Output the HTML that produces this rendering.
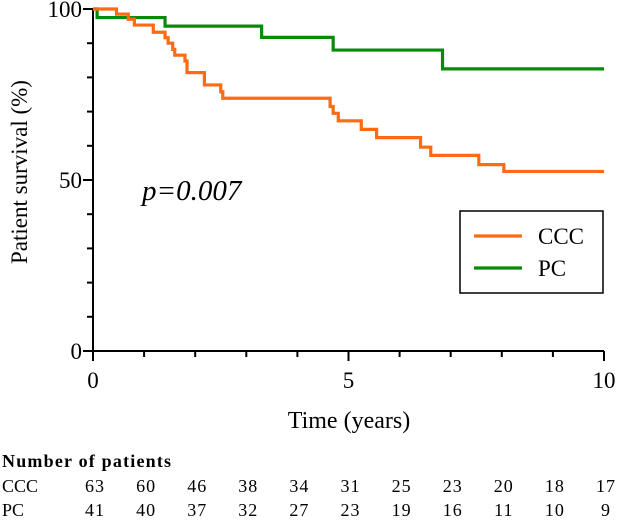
<!DOCTYPE html>
<html><head><meta charset="utf-8"><style>
body{margin:0;background:#fff;}
svg{display:block;font-family:"Liberation Serif",serif;}
</style></head><body>
<svg id="chart" width="617" height="522" viewBox="0 0 617 522" xmlns="http://www.w3.org/2000/svg">
<g id="axes"></g><g id="curves"></g><g id="table"></g>
</svg>
<script>
const cccTimes=[0,0.46,0.69,0.81,1.18,1.41,1.47,1.56,1.60,1.80,1.84,2.18,2.50,2.54,4.64,4.70,4.80,5.25,5.55,6.41,6.61,7.55,8.04];
const cccSurv=[100,98.5,97,95.3,93.2,91.6,90,88.2,86.5,84.8,81.4,77.8,75.8,73.9,71.5,69.5,67.3,64.8,62.4,59.6,57.2,54.5,52.5];
const pcTimes=[0,0.08,1.41,3.30,4.70,6.84];
const pcSurv=[100,97.5,95,91.7,88,82.5];
const xTicks=[0,5,10];
const yTicks=[0,50,100];
const cccAtRisk=[63,60,46,38,34,31,25,23,20,18,17];
const pcAtRisk=[41,40,37,32,27,23,19,16,11,10,9];
const NS="http://www.w3.org/2000/svg";
const X=t=>93+t*51.1, Y=p=>351-p*3.42;
function mk(tag,attrs,parent,text){const e=document.createElementNS(NS,tag);for(const k in attrs)e.setAttribute(k,attrs[k]);if(text!==undefined)e.textContent=text;parent.appendChild(e);return e;}
const axes=document.getElementById('axes');
let e=mk('line',{x1:X(0),y1:Y(0),x2:X(10),y2:Y(0),stroke:'#000','stroke-width':2},axes);

e=mk('line',{x1:X(0),y1:Y(0)+1,x2:X(0),y2:Y(100),stroke:'#000','stroke-width':2},axes);

for(let i=0;i<=10;i++){const big=i%5===0;mk('line',{x1:X(i),y1:Y(0),x2:X(i),y2:Y(0)+(big?10:6),stroke:'#000','stroke-width':2},axes);}
for(let i=0;i<=10;i++){const big=i%5===0;mk('line',{x1:X(0),y1:Y(i*10),x2:X(0)-(big?10:6),y2:Y(i*10),stroke:'#000','stroke-width':2},axes);}
xTicks.forEach(v=>{e=mk('text',{x:X(v),y:Y(0)+37,'text-anchor':'middle','font-size':23},axes,String(v));
});
yTicks.forEach(v=>{e=mk('text',{x:X(0)-11,y:Y(v)+8,'text-anchor':'end','font-size':23},axes,String(v));
});
e=mk('text',{x:349,y:428,'text-anchor':'middle','font-size':24},axes,'Time (years)');

e=mk('text',{x:0,y:0,'text-anchor':'middle','font-size':23,transform:'translate(27,172) rotate(-90)'},axes,'Patient survival (%)');

e=mk('text',{x:142,y:200,'font-size':29,'font-style':'italic'},axes,'p=0.007');

const curves=document.getElementById('curves');
function stepPath(ts,ss){let d='M'+X(ts[0])+','+Y(ss[0]);for(let i=1;i<ts.length;i++){d+=' H'+X(ts[i])+' V'+Y(ss[i]);}d+=' H'+X(10);return d;}
e=mk('path',{d:stepPath(pcTimes,pcSurv),fill:'none',stroke:'#0a8a0a','stroke-width':3.2},curves);

e=mk('path',{d:stepPath(cccTimes,cccSurv),fill:'none',stroke:'#ff6a13','stroke-width':3.2},curves);

const lg=mk('g',{},curves);

mk('rect',{x:460,y:211,width:143,height:82,fill:'#fff',stroke:'#000','stroke-width':1.5},lg);
mk('line',{x1:474,y1:236,x2:522,y2:236,stroke:'#ff6a13','stroke-width':3.2},lg);
e=mk('text',{x:538,y:244,'font-size':23},lg,'CCC');

mk('line',{x1:474,y1:268,x2:522,y2:268,stroke:'#0a8a0a','stroke-width':3.2},lg);
e=mk('text',{x:538,y:276,'font-size':23},lg,'PC');

const tb=document.getElementById('table');
e=mk('text',{x:2,y:467,'font-size':18,'font-weight':'bold','letter-spacing':'1.2'},tb,'Number of patients');

e=mk('text',{x:2,y:492,'font-size':18},tb,'CCC');

e=mk('text',{x:2,y:516,'font-size':18},tb,'PC');

cccAtRisk.forEach((v,i)=>{e=mk('text',{x:X(i)+2,y:492,'text-anchor':'middle','font-size':18,'letter-spacing':'1'},tb,String(v));
});
pcAtRisk.forEach((v,i)=>{e=mk('text',{x:X(i)+2,y:516,'text-anchor':'middle','font-size':18,'letter-spacing':'1'},tb,String(v));
});
</script>
</body></html>
